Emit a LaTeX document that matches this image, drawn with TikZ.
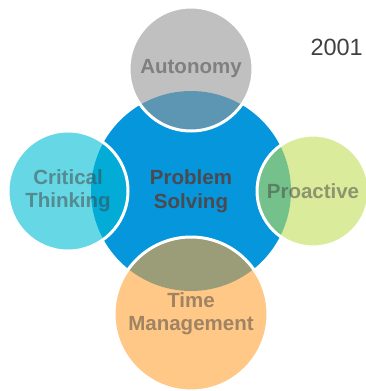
\documentclass[tikz,border=0pt]{standalone}
\usepackage{fontspec}
\setmainfont{Liberation Sans}
\definecolor{cblue}{RGB}{5,150,220}
\definecolor{cgray}{RGB}{150,150,150}
\definecolor{ccyan}{RGB}{0,188,210}
\definecolor{cgreen}{RGB}{193,222,88}
\definecolor{corange}{RGB}{255,163,55}
\definecolor{ctext}{RGB}{64,64,64}
\definecolor{cmain}{RGB}{74,74,80}
\begin{document}
\begin{tikzpicture}[x=1pt,y=-1pt,
  lbl/.style={font=\fontsize{20.5}{23}\selectfont\bfseries, align=center},
  petal/.style={circle, inner sep=0pt, outer sep=0pt, fill opacity=0.6, draw=white, draw opacity=1, line width=3pt, text=ctext, text opacity=0.5, lbl},
  hub/.style={circle, inner sep=0pt, outer sep=0pt, fill=cblue, text=cmain, lbl}]
\useasboundingbox (0,0) rectangle (365,391);
\node[hub, minimum size=200pt] (ps) at (191,191) {Problem\\[1pt]Solving};
\node[petal, fill=cgray, minimum size=124pt] (au) at (191,69) {Autonomy};
\node[petal, fill=ccyan, minimum size=120pt] (ct) at (68,191) {Critical\\Thinking};
\node[petal, fill=cgreen, minimum size=112pt] (pr) at (313,191) {Proactive};
\node[petal, fill=corange, minimum size=154pt] (tm) at (191,314) {Time\\Management};
\node[anchor=base east, inner sep=0pt, text=ctext, font=\fontsize{23.5}{28}\selectfont] (yr) at (363,55) {2001};
\end{tikzpicture}
\end{document}
